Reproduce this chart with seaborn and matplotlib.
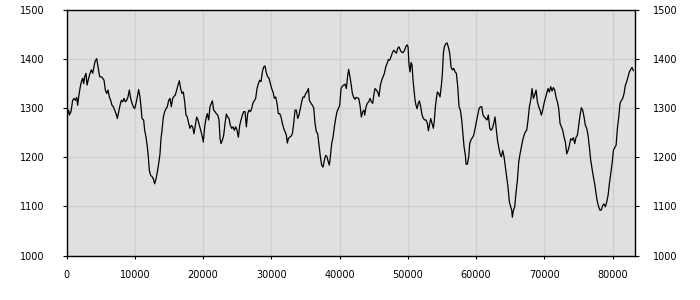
import matplotlib
matplotlib.use("Agg")
import matplotlib.pyplot as plt
import seaborn as sns
import pandas as pd

x_values = [
    0, 120, 320, 415, 660, 900, 1100, 1295, 1490, 1635, 1780, 2025, 2175, 2370, 2515, 2660, 2855, 3005, 3245, 3440,
    3640, 3835, 3980, 4175, 4420, 4615, 4860, 5105, 5300, 5495, 5690, 5885, 6080, 6275, 6470, 6665, 6860, 7055, 7250, 7450,
    7645, 7840, 8035, 8230, 8425, 8620, 8815, 9010, 9205, 9400, 9595, 9790, 9985, 10180, 10375, 10570, 10765, 10910, 11060, 11300,
    11450, 11645, 11840, 11985, 12135, 12330, 12525, 12720, 12915, 13110, 13305, 13500, 13695, 13840, 13990, 14185, 14380, 14575, 14770, 14965,
    15160, 15355, 15550, 15745, 15940, 16135, 16335, 16530, 16725, 16920, 17115, 17310, 17505, 17700, 17895, 18090, 18285, 18480, 18675, 18870,
    19065, 19260, 19460, 19655, 19850, 20045, 20240, 20435, 20630, 20825, 21020, 21215,
    21365, 21560, 21755, 21950, 22145, 22340, 22490, 22635, 22830, 23025, 23220, 23415, 23610, 23805, 24000, 24195, 24390, 24585, 24780, 24980,
    25175, 25370, 25565, 25760, 25955, 26150, 26345, 26540, 26735, 26930, 27125, 27320, 27515, 27710, 27905, 28100, 28300, 28495, 28690, 28885,
    29080, 29275, 29470, 29665, 29860, 30055, 30250, 30445, 30640, 30835, 31030, 31230, 31425, 31620, 31815, 32010, 32205, 32350, 32500, 32695,
    32890, 33085, 33280, 33475, 33670, 33865, 34060, 34255, 34450, 34645, 34840, 35035, 35230, 35430, 35575, 35820, 36015, 36210, 36405, 36600,
    36795, 36990, 37185, 37380, 37575, 37770, 37965, 38160, 38360, 38505, 38650, 38845, 39040, 39235, 39430, 39625, 39820, 40020, 40215, 40410,
    40605, 40800, 40995, 41190, 41335, 41480, 41680, 41875, 42070, 42265,
    42410, 42605, 42800, 42995, 43190, 43390, 43585, 43680, 43875, 44070, 44265, 44465, 44660, 44855, 45050, 45195, 45390, 45585, 45780, 45975,
    46170, 46370, 46565, 46760, 46955, 47150, 47345, 47540, 47735, 47930, 48125, 48320, 48515, 48710, 48905, 49100, 49295, 49490, 49690, 49885,
    50030, 50175, 50325, 50470, 50615, 50760, 50910, 51055, 51200, 51350, 51545, 51690, 51885, 52080, 52275, 52470, 52665, 52860, 53010, 53205,
    53350, 53545, 53740, 53885, 54035, 54180, 54325, 54520, 54715, 54915, 55060, 55205, 55350, 55545, 55745, 55940, 56135, 56330, 56525, 56720,
    56915, 57110, 57305, 57500, 57695, 57890, 58085, 58235, 58430, 58525, 58720, 58915, 59065, 59260, 59455, 59650, 59845, 60040, 60235, 60430,
    60625, 60820, 61015, 61210, 61405, 61600, 61795, 61995, 62190, 62385, 62580, 62775, 62970, 63165,
    63310, 63505, 63700, 63895, 64090, 64285, 64480, 64675, 64870, 65070, 65215, 65310, 65460, 65655, 65850, 66045, 66240, 66435, 66630, 66825,
    67020, 67215, 67410, 67605, 67800, 67995, 68195, 68390, 68585, 68780, 68975, 69170, 69365, 69560, 69755, 69950, 70145, 70340, 70535, 70730,
    70925, 71120, 71320, 71515, 71710, 71905, 72100, 72295, 72490, 72685, 72880, 73075, 73270, 73465, 73660, 73855, 74050, 74245, 74445, 74640,
    74835, 75030, 75225, 75420, 75615, 75810, 76005, 76200, 76395, 76590, 76785, 76980, 77175, 77370, 77570, 77765, 77960, 78155, 78350, 78545,
    78740, 78935, 79130, 79325, 79520, 79720, 79915, 80110, 80305, 80500, 80695, 80890, 81085, 81280, 81475, 81670, 81865, 82060, 82255, 82450,
    82645, 82840, 83040,
]

y_values = [
    1278, 1289, 1296, 1286, 1293, 1316, 1320, 1316, 1322, 1306, 1323, 1344, 1354, 1361, 1350, 1364, 1371, 1347, 1361, 1371,
    1378, 1371, 1381, 1395, 1401, 1384, 1364, 1364, 1361, 1357, 1337, 1330, 1337, 1323, 1316, 1306, 1303, 1296, 1289, 1279,
    1293, 1306, 1316, 1313, 1320, 1313, 1316, 1323, 1337, 1320, 1310, 1303, 1299, 1310, 1323, 1338, 1323, 1303, 1279, 1276,
    1255, 1241, 1221, 1201, 1173, 1163, 1161, 1156, 1146, 1156, 1170, 1187, 1207, 1238, 1255, 1282, 1293, 1299, 1303, 1316,
    1320, 1303, 1320, 1324, 1327, 1337, 1347, 1356, 1340, 1330, 1333, 1313, 1286, 1282, 1269, 1259, 1265, 1262, 1248, 1265,
    1282, 1276, 1265, 1255, 1245, 1231, 1262, 1279, 1289, 1276, 1303, 1310,
    1315, 1296, 1293, 1289, 1286, 1276, 1238, 1228, 1235, 1245, 1269, 1288, 1282, 1279, 1265, 1259, 1262, 1255, 1262, 1255,
    1241, 1265, 1276, 1286, 1293, 1293, 1262, 1289, 1296, 1293, 1299, 1311, 1315, 1320, 1340, 1350, 1357, 1354, 1374, 1384,
    1386, 1372, 1364, 1361, 1350, 1340, 1333, 1320, 1323, 1310, 1289, 1289, 1282, 1269, 1259, 1252, 1245, 1229, 1238, 1241,
    1243, 1248, 1269, 1296, 1296, 1279, 1286, 1299, 1313, 1323, 1322, 1330, 1333, 1340, 1316, 1310, 1306, 1301, 1269, 1252,
    1248, 1224, 1201, 1184, 1180, 1194, 1204, 1201, 1190, 1184, 1201, 1228, 1241, 1262, 1279, 1293, 1299, 1306, 1340, 1345,
    1347, 1349, 1340, 1367, 1379, 1367, 1350, 1330, 1322, 1318,
    1322, 1321, 1320, 1306, 1282, 1293, 1296, 1286, 1303, 1310, 1313, 1320, 1313, 1310, 1330, 1340, 1337, 1333, 1324, 1347,
    1357, 1364, 1371, 1384, 1391, 1399, 1398, 1405, 1413, 1418, 1415, 1412, 1422, 1425, 1418, 1414, 1413, 1417, 1425, 1429,
    1425, 1388, 1374, 1393, 1388, 1357, 1337, 1316, 1306, 1299, 1310, 1315, 1303, 1286, 1279, 1276, 1276, 1269, 1254, 1269,
    1279, 1269, 1259, 1276, 1303, 1320, 1333, 1330, 1323, 1347, 1371, 1412, 1425, 1431, 1433, 1424, 1412, 1384, 1378, 1381,
    1374, 1371, 1344, 1303, 1296, 1276, 1245, 1221, 1204, 1186, 1186, 1201, 1228, 1236, 1240, 1245, 1259, 1272, 1286, 1299,
    1303, 1303, 1286, 1282, 1279, 1276, 1286, 1259, 1255, 1259, 1269, 1282, 1255, 1231,
    1221, 1207, 1201, 1214, 1201, 1180, 1160, 1139, 1109, 1099, 1092, 1078, 1092, 1099, 1129, 1153, 1190, 1207, 1221, 1235,
    1245, 1252, 1255, 1276, 1303, 1316, 1340, 1320, 1327, 1337, 1313, 1303, 1296, 1286, 1296, 1310, 1320, 1330, 1340, 1333,
    1344, 1335, 1342, 1337, 1322, 1313, 1299, 1269, 1262, 1255, 1241, 1231, 1207, 1214, 1224, 1238, 1235, 1240, 1228, 1241,
    1245, 1265, 1286, 1301, 1296, 1282, 1265, 1259, 1245, 1221, 1194, 1177, 1160, 1146, 1126, 1109, 1099, 1092, 1093, 1102,
    1105, 1099, 1109, 1122, 1146, 1167, 1187, 1214, 1220, 1224, 1259, 1282, 1310, 1316, 1320, 1330, 1347, 1354, 1364, 1374,
    1379, 1383, 1376,
]

x_ticks = [0, 10000, 20000, 30000, 40000, 50000, 60000, 70000, 80000]
y_ticks = [1000, 1100, 1200, 1300, 1400, 1500]

df = pd.DataFrame({"x": x_values, "y": y_values})

sns.set_style("white")
plt.rcParams["font.family"] = ["DejaVu Sans"]

fig = plt.figure(figsize=(7, 3), dpi=100)
ax = fig.add_axes([66.5 / 700, 1 - 255.5 / 300, (634.5 - 66.5) / 700, (255.5 - 10) / 300])
ax.set_facecolor("#e0e0e0")

sns.lineplot(data=df, x="x", y="y", ax=ax, color="black", linewidth=0.9, estimator=None, sort=False)

ax.set_xlim(0, 83200)
ax.set_ylim(1000, 1500)
ax.set_xticks(x_ticks)
ax.set_yticks(y_ticks)
ax.set_xticklabels([str(t) for t in x_ticks])
ax.set_yticklabels([str(t) for t in y_ticks])
ax.set_xlabel("")
ax.set_ylabel("")
ax.grid(True, color="#d0d0d0", linewidth=1.0)
ax.set_axisbelow(True)

for s in ax.spines.values():
    s.set_visible(True)
    s.set_color("black")
    s.set_linewidth(1.0)

ax.tick_params(axis="x", which="both", bottom=True, top=False, direction="out",
               length=2.5, width=0.8, color="black", labelsize=7, pad=8, labelcolor="black")
ax.tick_params(axis="y", which="both", left=True, right=False, direction="out",
               length=3, width=0.8, color="black", labelsize=7, pad=13, labelcolor="black")

ax2 = ax.twinx()
ax2.set_ylim(1000, 1500)
ax2.set_yticks(y_ticks)
ax2.set_yticklabels([str(t) for t in y_ticks])
ax2.tick_params(axis="y", which="both", right=True, left=False, direction="out",
                length=3, width=0.8, color="black", labelsize=7, pad=10.5, labelcolor="black")
ax2.grid(False)
for s in ax2.spines.values():
    s.set_visible(False)

fig.savefig("out.png", dpi=100)
